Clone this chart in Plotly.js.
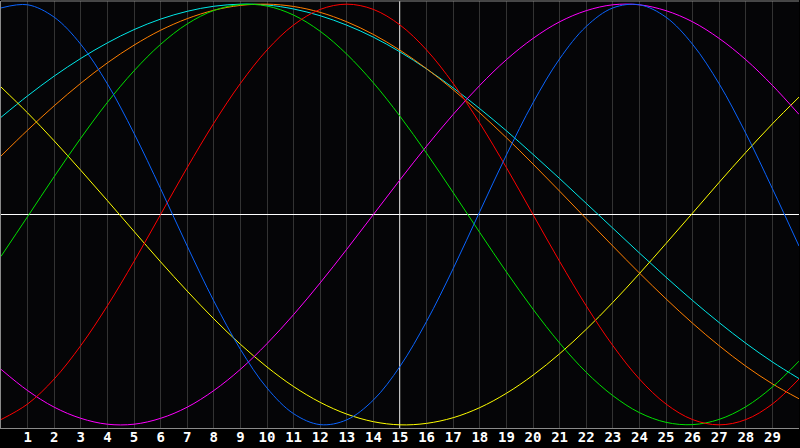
<!DOCTYPE html>
<html>
<head>
<meta charset="utf-8">
<script src="https://cdn.plot.ly/plotly-3.0.1.min.js"></script>
<style>
  html, body { margin: 0; padding: 0; background: #000; }
  #chart { width: 800px; height: 448px; }
</style>
</head>
<body>
<div id="chart"></div>
<script>
// days shown on the chart (0..30)
var days = [0,1,2,3,4,5,6,7,8,9,10,11,12,13,14,15,16,17,18,19,20,21,22,23,24,25,26,27,28,29,30];
var tickDays = [1,2,3,4,5,6,7,8,9,10,11,12,13,14,15,16,17,18,19,20,21,22,23,24,25,26,27,28,29];
var tickLabels = ['1','2','3','4','5','6','7','8','9','10','11','12','13','14','15','16','17','18','19','20','21','22','23','24','25','26','27','28','29'];

// values in percent
var physical     = [98.2,99.7,93.8,80.9,62.1,38.6,12.3,-15.0,-41.1,-64.1,-82.5,-94.7,-99.9,-97.6,-88.2,-72.2,-50.8,-25.7,1.4,28.3,53.1,74.0,89.4,98.2,99.7,93.8,80.9,62.1,38.6,12.3,-15.0];
var emotional    = [-97.5,-90.1,-78.2,-62.3,-43.4,-22.3,0,22.3,43.4,62.3,78.2,90.1,97.5,100,97.5,90.1,78.2,62.3,43.4,22.3,0,-22.3,-43.4,-62.3,-78.2,-90.1,-97.5,-100,-97.5,-90.1,-78.2];
var intellectual = [-19.9,-1.0,18.0,36.3,53.3,68.3,80.9,90.6,97.0,99.8,99.1,94.8,87.1,76.2,62.6,46.7,29.1,10.4,-8.6,-27.3,-45.0,-61.1,-75.0,-86.1,-94.2,-98.8,-99.9,-97.4,-91.4,-82.0,-69.7];
var intuitive    = [-73.6,-83.7,-91.6,-96.9,-99.7,-99.7,-96.9,-91.6,-83.7,-73.6,-61.4,-47.6,-32.5,-16.5,0,16.5,32.5,47.6,61.4,73.6,83.7,91.6,96.9,99.7,99.7,96.9,91.6,83.7,73.6,61.4,47.6];
var aesthetic    = [60.6,48.3,35.0,21.0,6.6,-8.0,-22.5,-36.4,-49.6,-61.7,-72.5,-81.8,-89.3,-94.9,-98.5,-100,-99.3,-96.6,-91.8,-85.0,-76.4,-66.2,-54.6,-41.8,-28.1,-13.8,0.7,15.3,29.5,43.1,55.8];
var awareness    = [27.8,40.1,51.7,62.4,72.1,80.5,87.6,93.1,97.1,99.4,100,98.9,96.1,91.6,85.6,78.1,69.3,59.3,48.3,36.5,24.0,11.1,-2.0,-15.0,-27.8,-40.1,-51.7,-62.4,-72.1,-80.5,-87.6];
var spiritual    = [46.2,56.4,65.8,74.2,81.6,87.9,92.9,96.6,99.0,100,99.6,97.7,94.5,90.0,84.3,77.3,69.2,60.2,50.3,39.8,28.6,17.1,5.3,-6.5,-18.3,-29.8,-40.9,-51.4,-61.2,-70.1,-78.0];

function line(y, color) {
  return {
    x: days,
    y: y,
    type: 'scatter',
    mode: 'lines',
    line: { color: color, width: 1, shape: 'spline', smoothing: 1 },
    hoverinfo: 'skip'
  };
}

var data = [
  line(spiritual, '#00e8e8'),
  line(awareness, '#ff7f00'),
  line(aesthetic, '#ffff00'),
  line(intuitive, '#ff00ff'),
  line(intellectual, '#00e000'),
  line(emotional, '#ff0000'),
  line(physical, '#0a64ff')
];

var layout = {
  width: 800,
  height: 448,
  margin: { l: 1, r: 1, t: 1, b: 20, pad: 0 },
  paper_bgcolor: '#000000',
  plot_bgcolor: '#050507',
  showlegend: false,
  xaxis: {
    range: [0, 30],
    tickvals: tickDays,
    ticktext: tickLabels,
    showgrid: true,
    gridcolor: '#333333',
    gridwidth: 1,
    zeroline: false,
    showline: true,
    linecolor: '#8a8a8a',
    linewidth: 1,
    ticks: '',
    ticklabelstandoff: -4,
    tickfont: { family: 'DejaVu Sans Mono', size: 14, color: '#ffffff', weight: 'bold' },
    fixedrange: true
  },
  yaxis: {
    range: [-101.5, 101.5],
    showgrid: false,
    zeroline: true,
    zerolinecolor: '#ffffff',
    zerolinewidth: 1,
    showticklabels: false,
    showline: true,
    linecolor: '#8a8a8a',
    linewidth: 1,
    mirror: false,
    fixedrange: true
  },
  shapes: [
    { type: 'line', xref: 'paper', yref: 'paper', x0: 0, x1: 1, y0: 1, y1: 1,
      line: { color: '#8a8a8a', width: 1 } },
    { type: 'line', xref: 'x', yref: 'paper', x0: 15, x1: 15, y0: 0, y1: 1,
      line: { color: '#ffffff', width: 1.5 }, layer: 'below' }
  ]
};

Plotly.newPlot('chart', data, layout, { staticPlot: true, displayModeBar: false });
</script>
</body>
</html>
